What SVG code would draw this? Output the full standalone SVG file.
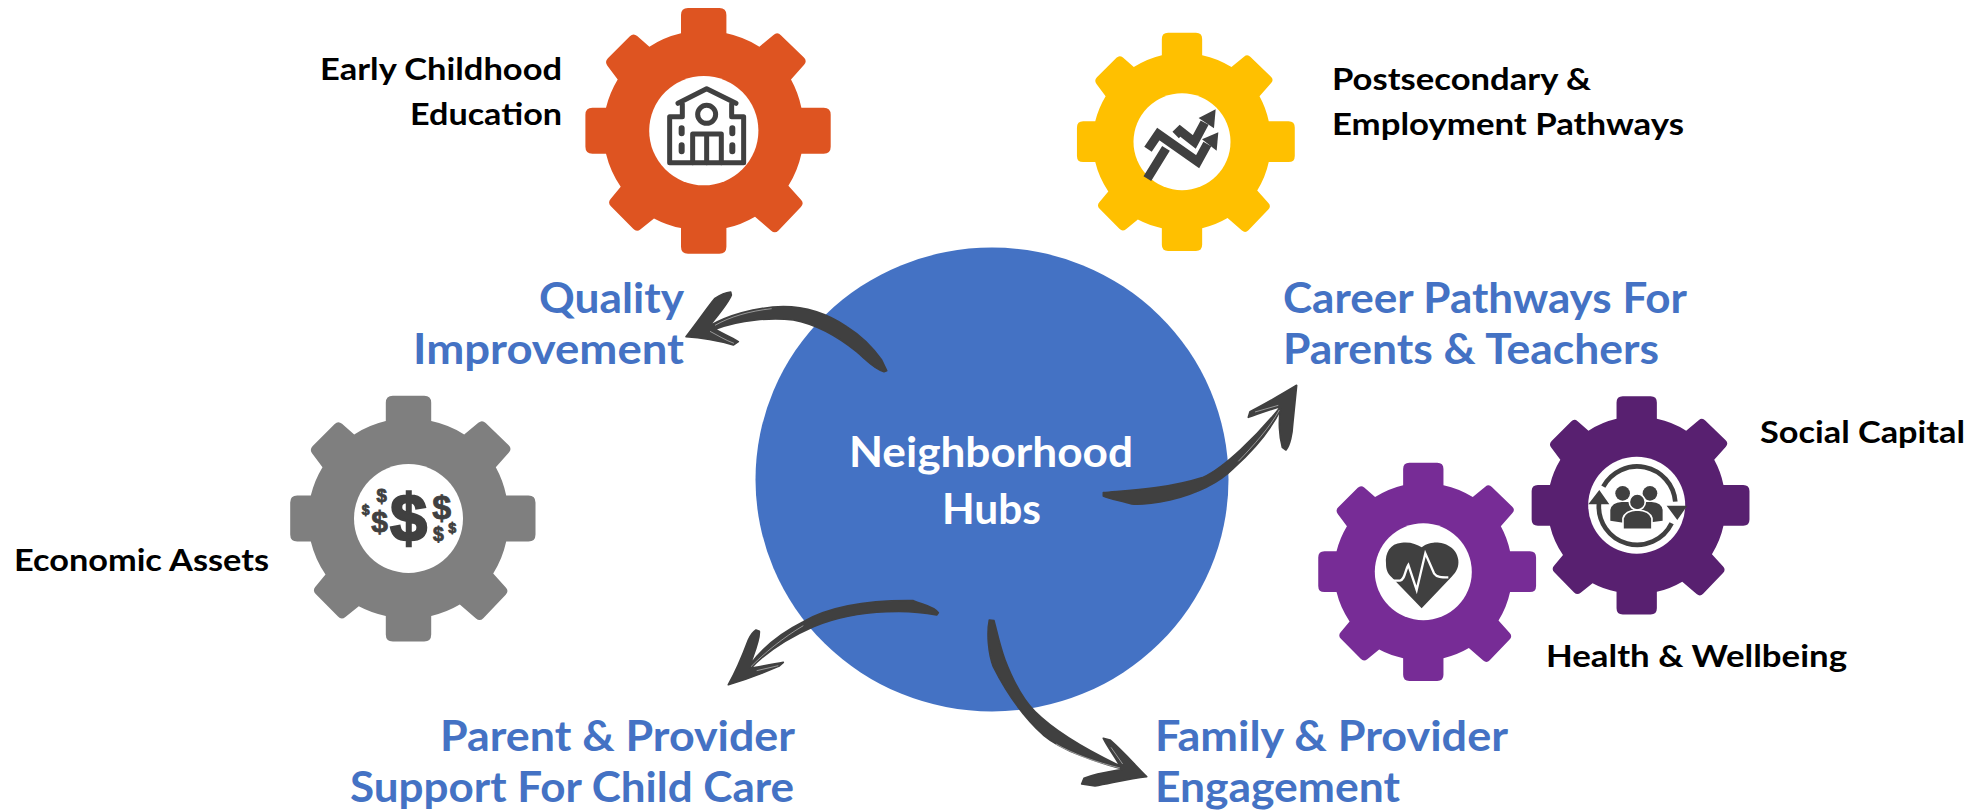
<svg xmlns="http://www.w3.org/2000/svg" width="1974" height="811" viewBox="0 0 1974 811">
<style>
text{font-family:"Lato","Carlito","Open Sans",sans-serif;font-weight:700}
.k{fill:#000;font-size:31px}
.b{fill:#4472C4;font-size:42px}
.w{fill:#fff;font-size:42px}
.d{font-family:"Liberation Sans",Arial,sans-serif;font-weight:700;fill:#404040;stroke:#404040;stroke-width:.8;text-anchor:middle}
.hole{fill:#fff}
.ink{fill:#404040}
.brush{fill:#404040;stroke:#404040;stroke-width:5;stroke-linejoin:round}
.line{fill:none;stroke:#404040}
.wisp{fill:none;stroke:#fff;stroke-width:2;opacity:.7}
</style>
<defs>
<path id="gear" d="M-22.7,-115.7Q-22.7,-122.7,-15.7,-122.7L15.7,-122.7Q22.7,-122.7,22.7,-115.7L22.7,-97.4A100,100,0,0,1,55.7,-84L69.8,-95.8Q73.7,-99,77.2,-95.5L100.2,-73.2Q103.7,-69.7,100.4,-66L87.3,-51.3A100,100,0,0,1,97.7,-23L120,-23Q127,-23,127,-16L127,16Q127,23,120,23L97.7,23A100,100,0,0,1,84.7,55L97.3,69Q100.7,72.7,97.2,76.3L74.8,99.7Q71.3,103.3,67.5,100L51.3,86A100,100,0,0,1,22.7,97.4L22.7,116Q22.7,123,15.7,123L-15.7,123Q-22.7,123,-22.7,116L-22.7,97.4A100,100,0,0,1,-49.7,87.7L-63.1,98.5Q-67,101.7,-70.5,98.1L-92.8,75.5Q-96.3,72,-93.1,68.2L-83,56A100,100,0,0,1,-97.7,23L-111.3,23Q-118.3,23,-118.3,16L-118.3,-16Q-118.3,-23,-111.3,-23L-97.7,-23A100,100,0,0,1,-86,-51.3L-96.3,-65Q-99.3,-69,-95.8,-72.5L-73.8,-94.5Q-70.3,-98,-66.5,-94.7L-54.3,-84A100,100,0,0,1,-22.7,-97.4Z"/>
</defs>

<g id="hub">
<ellipse cx="992" cy="479.5" rx="236.5" ry="232" fill="#4472C4"/>
<text class="w" x="849" y="467" textLength="284" lengthAdjust="spacingAndGlyphs">Neighborhood</text>
<text class="w" x="942" y="524" textLength="99" lengthAdjust="spacingAndGlyphs">Hubs</text>
</g>

<g id="gear-early-childhood">
<use href="#gear" x="703.7" y="130.7" fill="#DE5421"/>
<circle class="hole" cx="703.8" cy="130.7" r="54.6"/>
<g transform="translate(560 0) scale(.3333)" fill="none" stroke="#404040" stroke-width="15" stroke-linejoin="round" stroke-linecap="round">
<path d="M354,310L440,266L528,310M367,312V350H329V488H551V350H515V312"/>
<circle cx="440" cy="343" r="27"/>
<path d="M398,488V402H484V488M440,405V488"/>
<path d="M365,385V400M365,436V454M517,385V400M517,436V454" stroke-width="18"/>
</g>
<text class="k" x="320" y="79.5" textLength="242" lengthAdjust="spacingAndGlyphs">Early Childhood</text>
<text class="k" x="410" y="124.5" textLength="152" lengthAdjust="spacingAndGlyphs">Education</text>
</g>

<g id="gear-postsecondary">
<use href="#gear" transform="translate(1182 141.7) scale(.888)" fill="#FFC000"/>
<circle class="hole" cx="1182" cy="141.7" r="48.5"/>
<g transform="translate(1060 20) scale(.3333)">
<path class="line" stroke-width="27" d="M347,345L360,332L403,366L434,308"/>
<path class="ink" d="M467,268L462,325L416,294Z"/>
<path style="fill:none;stroke:#fff" stroke-width="34" d="M335,375L405,420"/>
<path class="line" stroke-width="27" d="M264,388L295,342L413,425L442,372M262,476L318,385"/>
<path class="ink" d="M475,337L470,392L426,358Z"/>
</g>
<text class="k" x="1332" y="90" textLength="259" lengthAdjust="spacingAndGlyphs">Postsecondary &amp;</text>
<text class="k" x="1332" y="134.5" textLength="352" lengthAdjust="spacingAndGlyphs">Employment Pathways</text>
</g>

<g id="gear-economic-assets">
<use href="#gear" x="408.5" y="518.5" fill="#7F7F7F"/>
<circle class="hole" cx="408.5" cy="518.5" r="54.5"/>
<text class="d" x="408.7" y="540.7" font-size="66" style="stroke-width:2.5">$</text>
<text class="d" x="441.7" y="519.3" font-size="34">$</text>
<text class="d" x="379.5" y="532" font-size="30">$</text>
<text class="d" x="381.7" y="502.2" font-size="18.6">$</text>
<text class="d" x="365.7" y="515.3" font-size="14">$</text>
<text class="d" x="438.3" y="541.4" font-size="19.4">$</text>
<text class="d" x="452.2" y="532.9" font-size="14.3">$</text>
<text class="k" x="14" y="570.5" textLength="255" lengthAdjust="spacingAndGlyphs">Economic Assets</text>
</g>

<g id="gear-health">
<use href="#gear" transform="translate(1423.3 571.7) scale(.888)" fill="#772C96"/>
<circle class="hole" cx="1423.3" cy="571.7" r="48.5"/>
<g transform="translate(1310 390) scale(.3333)">
<path class="ink" d="M335,655L245,562C232,550,228,538,228,520C225,490,240,460,275,458C300,455,320,462,335,472C345,465,350,460,370,458C400,455,440,470,445,510C447,530,440,545,425,560Z"/>
<path fill="none" stroke="#fff" stroke-width="7" d="M228,572H270C285,570,285,540,295,525L320,600L346,490L372,550C380,562,395,562,415,562"/>
</g>
<text class="k" x="1546" y="667" textLength="301" lengthAdjust="spacingAndGlyphs">Health &amp; Wellbeing</text>
</g>

<g id="gear-social-capital">
<use href="#gear" transform="translate(1636.7 505.3) scale(.888)" fill="#582070"/>
<circle class="hole" cx="1636.7" cy="505.3" r="48.5"/>
<g transform="translate(1310 390) scale(.3333)">
<path class="line" stroke-width="14" d="M880,290A115,115,0,0,1,1096,335M1085,400A115,115,0,0,1,867,340"/>
<path class="ink" d="M1070,347H1132L1102,390ZM835,343H898L868,300Z"/>
<circle class="ink" cx="938" cy="310" r="22"/>
<circle class="ink" cx="1020" cy="310" r="22"/>
<path class="ink" d="M901,392V360Q905,338,935,336H1025Q1055,338,1058,360V392L1000,400H950Z"/>
<circle class="ink" cx="982" cy="336" r="24" stroke="#fff" stroke-width="5"/>
<path class="ink" stroke="#fff" stroke-width="5" d="M939,418V385Q945,362,982,360Q1020,362,1026,385V418Z"/>
</g>
<text class="k" x="1760" y="443" textLength="205" lengthAdjust="spacingAndGlyphs">Social Capital</text>
</g>

<g id="label-quality">
<text class="b" x="539" y="313" textLength="145" lengthAdjust="spacingAndGlyphs">Quality</text>
<text class="b" x="413" y="363.5" textLength="271" lengthAdjust="spacingAndGlyphs">Improvement</text>
</g>
<g id="label-career">
<text class="b" x="1283" y="313" textLength="404" lengthAdjust="spacingAndGlyphs">Career Pathways For</text>
<text class="b" x="1283" y="363.5" textLength="376" lengthAdjust="spacingAndGlyphs">Parents &amp; Teachers</text>
</g>
<g id="label-parent">
<text class="b" x="440" y="751" textLength="355" lengthAdjust="spacingAndGlyphs">Parent &amp; Provider</text>
<text class="b" x="350" y="801.5" textLength="444" lengthAdjust="spacingAndGlyphs">Support For Child Care</text>
</g>
<g id="label-family">
<text class="b" x="1155" y="751" textLength="353" lengthAdjust="spacingAndGlyphs">Family &amp; Provider</text>
<text class="b" x="1155" y="801.5" textLength="245" lengthAdjust="spacingAndGlyphs">Engagement</text>
</g>

<g id="connectors">
<g transform="translate(660 280) scale(.3333)">
<path class="brush" d="M78,170C110,130 140,85 165,55C180,45 195,38 212,36L214,45C205,70 170,110 148,138C200,108 280,82 370,80C440,80 500,100 560,140C600,165 640,205 665,240L680,272L672,275C640,265 620,240 590,215C540,175 480,135 400,120C340,112 240,118 165,148C185,160 210,170 235,185L220,195C170,180 120,172 78,170Z"/>
<path class="wisp" d="M165,136C210,110 270,93 335,86M150,154C175,167 195,180 222,190"/>
</g>
<g transform="translate(1090 370) scale(.3333)">
<path class="brush" d="M620,46L608,165C607,190 600,225 588,240L577,232C568,200 565,150 572,118C540,185 480,250 430,295C380,345 300,375 240,390C190,400 150,405 125,402C95,392 60,388 40,378L40,368C100,362 220,360 340,322C400,295 500,200 572,110C540,118 510,130 475,142L480,125C520,105 580,70 620,46Z"/>
<path class="wisp" d="M568,120C540,172 490,227 445,274M495,126L565,106"/>
</g>
<g transform="translate(720 590) scale(.3333)">
<path class="brush" d="M25,284C50,240 70,190 85,150C92,135 100,125 108,120L118,124C120,150 100,195 90,225C130,170 190,125 250,95C320,55 420,30 580,32C610,45 640,48 655,68L650,75C600,65 550,62 500,65C420,68 340,85 280,110C200,145 140,185 92,235C130,228 160,222 190,217L178,228C150,240 100,262 25,284Z"/>
<path class="wisp" d="M93,230C130,192 190,142 250,107M110,242L175,227"/>
</g>
<g transform="translate(980 610) scale(.3333)">
<path class="brush" d="M28,30L42,32C52,70 60,110 75,150C100,215 130,270 165,305C220,360 320,420 420,468C405,440 385,415 370,385L390,390C430,425 465,465 500,500C450,505 400,518 345,528L305,522L312,505C350,490 390,485 430,478C350,455 250,425 190,375C130,320 80,250 40,170C25,130 20,70 28,30Z"/>
<path class="wisp" d="M228,402C280,432 350,457 420,474M393,412L428,462"/>
</g>
</g>
</svg>
